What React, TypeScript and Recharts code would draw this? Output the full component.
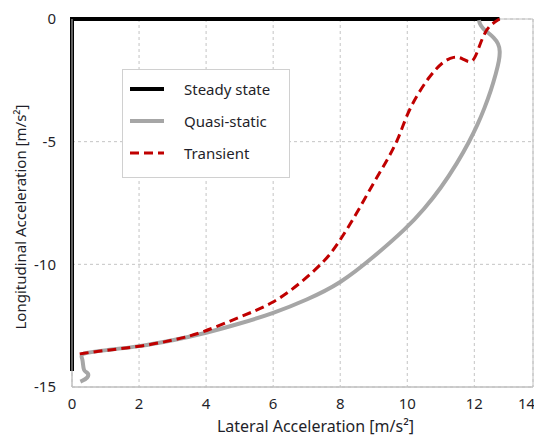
import {
  LineChart,
  Line,
  XAxis,
  YAxis,
  CartesianGrid,
  ReferenceArea,
  Legend,
} from 'recharts';

const seriesNames = ['Steady state', 'Quasi-static', 'Transient'];

// Steady state (black)
const steadyX = [0, 0, 12.75];
const steadyY = [-14.35, 0, 0];

// Quasi-static (grey)
const quasiX = [0.25, 0.49, 0.49, 0.33, 0.33, 0.2, 1, 2, 3, 4, 5, 6, 7, 8, 9, 10, 10.5, 11, 11.5, 11.85, 12.1, 12.3, 12.5, 12.65, 12.74, 12.77, 12.72, 12.58, 12.4, 12.25, 12.16, 12.14];
const quasiY = [-14.78, -14.63, -14.4, -14.38, -13.82, -13.63, -13.5, -13.35, -13.1, -12.8, -12.42, -12.0, -11.45, -10.79, -9.7, -8.5, -7.75, -6.9, -5.85, -5.0, -4.3, -3.65, -2.9, -2.2, -1.7, -1.3, -1.0, -0.75, -0.55, -0.38, -0.2, -0.05];

// Transient (red dashed)
const transX = [0.23, 1, 2, 3, 3.83, 5, 6, 6.8, 7.6, 8, 8.49, 8.98, 9.46, 9.76, 9.96, 10.26, 10.65, 11.05, 11.4, 11.65, 11.95, 12.14, 12.34, 12.54, 12.75];
const transY = [-13.65, -13.5, -13.36, -13.1, -12.82, -12.15, -11.6, -10.79, -9.8, -9.02, -7.93, -6.71, -5.62, -4.8, -3.99, -3.17, -2.35, -1.74, -1.51, -1.6, -1.88, -1.13, -0.45, -0.18, 0];

const xTicks = [0, 2, 4, 6, 8, 10, 12, 13.75];
const yTicks = [-15, -10, -5, 0];

const toPoints = (xs: number[], ys: number[]) => xs.map((x, i) => ({ x, y: ys[i] }));

const FONT = '"Noto Sans", sans-serif';
const TEXT = '#1f1f2a';

function LegendBox(props: any) {
  const items = [...(props.payload || [])].sort(
    (a: any, b: any) => seriesNames.indexOf(a.value) - seriesNames.indexOf(b.value)
  );
  return (
    <div
      style={{
        width: 168,
        height: 109,
        boxSizing: 'border-box',
        border: '1px solid #d0d0d0',
        background: 'white',
        position: 'relative',
        fontFamily: FONT,
        fontSize: 15,
        color: TEXT,
      }}
    >
      {items.map((entry: any, i: number) => (
        <div key={entry.value} style={{ position: 'absolute', left: 7, top: 9 + i * 32, height: 20, display: 'flex', alignItems: 'center' }}>
          <svg width={34} height={20}>
            <line
              x1={0}
              y1={10}
              x2={34}
              y2={10}
              stroke={entry.color}
              strokeWidth={entry.payload?.strokeWidth}
              strokeDasharray={entry.payload?.strokeDasharray}
            />
          </svg>
          <span style={{ marginLeft: 20, whiteSpace: 'nowrap' }}>{entry.value}</span>
        </div>
      ))}
    </div>
  );
}

export default function App() {
  return (
    <div style={{ width: 534, height: 439, overflow: 'hidden', background: 'white' }}>
      <style>{'body { margin: 0; }'}</style>
      <LineChart width={534} height={439} margin={{ top: 19, right: 1, left: 0, bottom: 0 }}>
        <CartesianGrid stroke="#c4c4c4" strokeDasharray="3 3" />
        <ReferenceArea x1={0} x2={13.75} y1={-15} y2={0} fill="none" stroke="#c0c0c0" strokeWidth={1} />
        <XAxis
          type="number"
          dataKey="x"
          domain={[0, 13.75]}
          ticks={xTicks}
          tickFormatter={(v: number) => String(Math.round(v))}
          axisLine={{ stroke: '#c0c0c0' }}
          tickLine={false}
          tickSize={0}
          tickMargin={11}
          height={52}
          tick={{ fill: TEXT, fontSize: 15, fontFamily: FONT }}
          label={{ value: 'Lateral Acceleration [m/s²]', position: 'center', dx: 13, dy: 13, fill: TEXT, fontSize: 16, fontFamily: FONT }}
        />
        <YAxis
          type="number"
          domain={[-15, 0]}
          ticks={yTicks}
          axisLine={{ stroke: '#c0c0c0' }}
          tickLine={false}
          tickSize={0}
          tickMargin={16}
          width={72}
          tick={{ fill: TEXT, fontSize: 15, fontFamily: FONT }}
          label={{ value: 'Longitudinal Acceleration [m/s²]', angle: -90, position: 'center', dx: -15, dy: 14, fill: TEXT, fontSize: 15, fontFamily: FONT }}
        />
        <Legend
          layout="horizontal"
          align="center"
          verticalAlign="middle"
          content={<LegendBox />}
          wrapperStyle={{ position: 'absolute', left: 122, top: 69, width: 168, height: 109 }}
        />
        <Line
          name="Steady state"
          data={toPoints(steadyX, steadyY)}
          dataKey="y"
          type="linear"
          stroke="#000000"
          strokeWidth={4}
          dot={false}
          activeDot={false}
          isAnimationActive={false}
        />
        <Line
          name="Quasi-static"
          data={toPoints(quasiX, quasiY)}
          dataKey="y"
          type="basis"
          stroke="#a6a6a6"
          strokeWidth={4}
          dot={false}
          activeDot={false}
          isAnimationActive={false}
        />
        <Line
          name="Transient"
          data={toPoints(transX, transY)}
          dataKey="y"
          type="basis"
          stroke="#c00000"
          strokeWidth={3}
          strokeDasharray="9 5"
          dot={false}
          activeDot={false}
          isAnimationActive={false}
        />
      </LineChart>
    </div>
  );
}
